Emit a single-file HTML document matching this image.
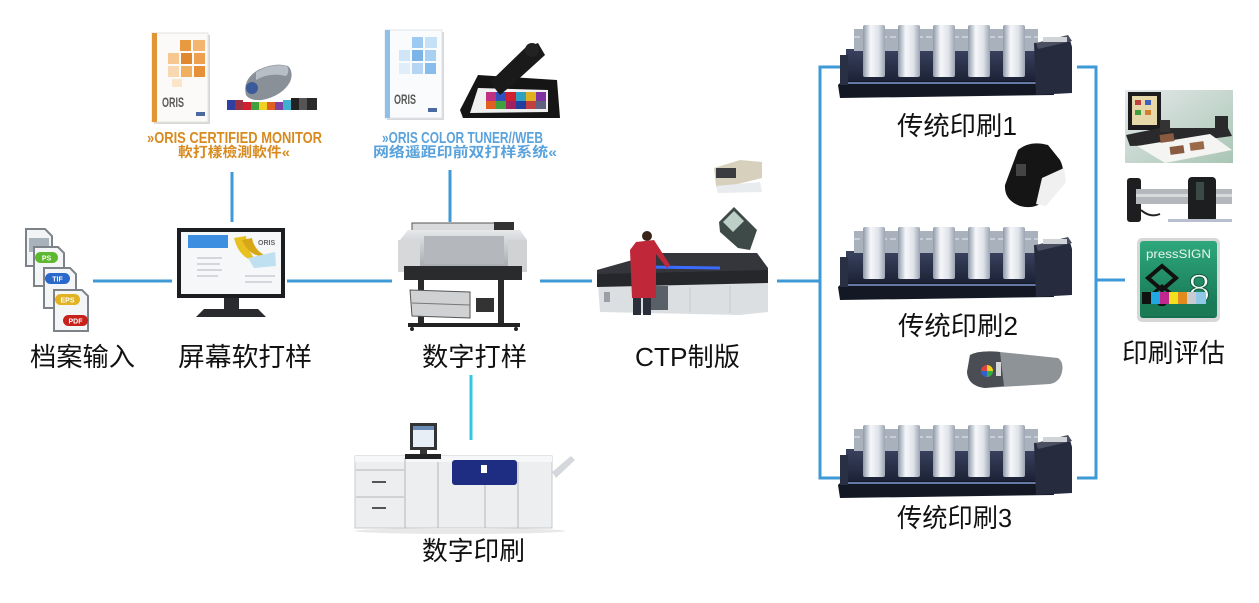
<!DOCTYPE html>
<html><head><meta charset="utf-8"><style>
html,body{margin:0;padding:0;background:#fff;}
svg{display:block;}
.lab{font-family:"Liberation Sans","Noto Sans CJK SC",sans-serif;font-size:26px;fill:#111;}
</style></head><body>
<svg width="1259" height="603" viewBox="0 0 1259 603" xmlns="http://www.w3.org/2000/svg">
<defs>
 <linearGradient id="tower" x1="0" x2="1" y1="0" y2="0">
  <stop offset="0" stop-color="#8f99a8"/><stop offset="0.35" stop-color="#f5f7fa"/><stop offset="0.7" stop-color="#dfe3e9"/><stop offset="1" stop-color="#9ba4b2"/>
 </linearGradient>
 <linearGradient id="navy" x1="0" x2="0" y1="0" y2="1">
  <stop offset="0" stop-color="#3a4360"/><stop offset="1" stop-color="#1c2236"/>
 </linearGradient>
 <linearGradient id="silver" x1="0" x2="0" y1="0" y2="1">
  <stop offset="0" stop-color="#e6e8ea"/><stop offset="1" stop-color="#9ea3a8"/>
 </linearGradient>
 <linearGradient id="green" x1="0" x2="0" y1="0" y2="1">
  <stop offset="0" stop-color="#2ea87c"/><stop offset="1" stop-color="#157050"/>
 </linearGradient>
 <linearGradient id="evalbg" x1="0" x2="1" y1="0" y2="1">
  <stop offset="0" stop-color="#e4e8ea"/><stop offset="1" stop-color="#a9c6b4"/>
 </linearGradient>
 <g id="press">
  <path d="M0 60 L5 55 L214 55 L216 70 L2 73 Z" fill="#141824"/>
  <rect x="6" y="57" width="206" height="2" fill="#6678a6"/>
  <rect x="8" y="24" width="192" height="32" fill="url(#navy)"/>
  <rect x="2" y="30" width="8" height="30" fill="#2a3044"/>
  <rect x="16" y="4" width="184" height="22" fill="#a9b1bc"/>
  <line x1="16" y1="12" x2="200" y2="12" stroke="#e8ecf0" stroke-width="1" stroke-dasharray="6 3"/>
  <path d="M196 18 L232 15 L234 22 L234 68 L198 70 Z" fill="#262c3e"/>
  <path d="M198 18 L230 10 L234 16 L200 24 Z" fill="#4a5060"/>
  <rect x="205" y="12" width="24" height="5" fill="#d0d4d8"/>
  <rect x="25" y="0" width="22" height="52" rx="2" fill="url(#tower)"/>
  <rect x="60" y="0" width="22" height="52" rx="2" fill="url(#tower)"/>
  <rect x="95" y="0" width="22" height="52" rx="2" fill="url(#tower)"/>
  <rect x="130" y="0" width="22" height="52" rx="2" fill="url(#tower)"/>
  <rect x="165" y="0" width="22" height="52" rx="2" fill="url(#tower)"/>
 </g>
</defs>

<!-- connectors -->
<g stroke="#3d9ad6" stroke-width="3" fill="none">
 <line x1="93" y1="281" x2="172" y2="281"/>
 <line x1="287" y1="281" x2="392" y2="281"/>
 <line x1="540" y1="281" x2="592" y2="281"/>
 <line x1="777" y1="281" x2="820" y2="281"/>
 <line x1="232" y1="172" x2="232" y2="222"/>
 <line x1="450" y1="170" x2="450" y2="222"/>
 <polyline points="842,67 820,67 820,478 842,478"/>
 <polyline points="1077,67 1096,67 1096,478 1077,478"/>
 <line x1="1096" y1="280" x2="1125" y2="280"/>
</g>
<line x1="471" y1="375" x2="471" y2="440" stroke="#34c8de" stroke-width="3"/>

<!-- file icons -->
<g stroke="#7d8288" stroke-width="2">
 <path d="M26 229 L45 229 L52 236 L52 266 L26 266 Z" fill="#f2f3f4"/>
 <rect x="29" y="238" width="20" height="14" fill="#a8b2bc" stroke="none"/>
 <path d="M34 247 L58 247 L64 253 L64 286 L34 286 Z" fill="#f4f5f6"/>
 <path d="M44 268 L70 268 L76 274 L76 308 L44 308 Z" fill="#f4f5f6"/>
 <path d="M54 290 L82 290 L88 296 L88 331 L54 331 Z" fill="#f4f5f6"/>
</g>
<g font-family="Liberation Sans, sans-serif" font-weight="bold" font-size="7" fill="#fff" text-anchor="middle">
 <rect x="35" y="252" width="23" height="11" rx="5.5" fill="#5cb82e"/><text x="46.5" y="260.5">PS</text>
 <rect x="45" y="273" width="25" height="11" rx="5.5" fill="#2a68cc"/><text x="57.5" y="281.5">TIF</text>
 <rect x="55" y="294" width="25" height="11" rx="5.5" fill="#e1b222"/><text x="67.5" y="302.5">EPS</text>
 <rect x="63" y="315" width="25" height="11" rx="5.5" fill="#c8201a"/><text x="75.5" y="323.5">PDF</text>
</g>

<!-- monitor -->
<rect x="177" y="228" width="108" height="70" fill="#1c1d20"/>
<rect x="181" y="232" width="100" height="62" fill="#f6f7f8"/>
<rect x="188" y="235" width="40" height="13" fill="#3c8ee0"/>
<g stroke="#c8ccd2" stroke-width="1.5">
 <line x1="197" y1="258" x2="222" y2="258"/><line x1="197" y1="264" x2="220" y2="264"/>
 <line x1="197" y1="270" x2="222" y2="270"/><line x1="197" y1="276" x2="218" y2="276"/>
 <line x1="245" y1="276" x2="275" y2="276"/><line x1="245" y1="282" x2="272" y2="282"/>
</g>
<path d="M234 238 Q240 262 262 262 Q248 258 246 236 Z" fill="#e8c020"/>
<path d="M242 240 Q250 258 266 256 Q254 250 252 238 Z" fill="#d6a818"/>
<path d="M248 258 L275 252 L276 266 L254 268 Z" fill="#bfe0f0"/>
<text x="258" y="245" font-family="Liberation Sans, sans-serif" font-size="7" font-weight="bold" fill="#666">ORIS</text>
<rect x="224" y="298" width="15" height="12" fill="#2a2b2e"/>
<path d="M196 317 L204 309 L258 309 L266 317 Z" fill="#2a2b2e"/>

<!-- ORIS box 1 -->
<rect x="154" y="35" width="56" height="89" fill="#d8d8d8"/>
<rect x="152" y="33" width="56" height="89" fill="#fbfaf8" stroke="#e6e2dc" stroke-width="1"/>
<rect x="152" y="33" width="5" height="89" fill="#e39434"/>
<rect x="180" y="40" width="11" height="11" fill="#e89a40"/>
<rect x="193" y="40" width="12" height="11" fill="#f2b670"/>
<rect x="168" y="53" width="11" height="11" fill="#f6c890"/>
<rect x="181" y="53" width="11" height="11" fill="#e08830"/>
<rect x="194" y="53" width="11" height="11" fill="#eda050"/>
<rect x="168" y="66" width="11" height="11" fill="#f8d8b0"/>
<rect x="181" y="66" width="11" height="11" fill="#f0b060"/>
<rect x="194" y="66" width="11" height="11" fill="#e69038"/>
<rect x="172" y="79" width="10" height="8" fill="#fbe4c8"/>
<text x="162" y="107" font-family="Liberation Sans, sans-serif" font-size="14" font-weight="bold" fill="#5a5a5a" textLength="22" lengthAdjust="spacingAndGlyphs">ORIS</text>
<rect x="196" y="112" width="9" height="4" fill="#4a6aa0"/>
<!-- device 1 -->
<path d="M246 95 Q242 80 258 70 Q275 62 288 66 Q294 72 290 82 Q282 96 262 100 Q250 101 246 95 Z" fill="#8a9098"/>
<path d="M256 72 Q272 63 287 66 Q290 72 286 76 Q270 72 256 80 Z" fill="#b8bec6"/>
<circle cx="252" cy="88" r="6" fill="#3a5a9a"/>
<g>
 <rect x="227" y="100" width="8" height="10" fill="#3040a0"/><rect x="235" y="100" width="8" height="10" fill="#a03040"/>
 <rect x="243" y="102" width="8" height="8" fill="#d02030"/><rect x="251" y="102" width="8" height="8" fill="#40a040"/>
 <rect x="259" y="102" width="8" height="8" fill="#f0d020"/><rect x="267" y="102" width="8" height="8" fill="#e06020"/>
 <rect x="275" y="102" width="8" height="8" fill="#8040a0"/><rect x="283" y="100" width="8" height="10" fill="#40b0d0"/>
 <rect x="291" y="98" width="8" height="12" fill="#222"/><rect x="299" y="98" width="8" height="12" fill="#555"/>
 <rect x="307" y="98" width="10" height="12" fill="#2a2a2a"/>
</g>
<text x="147" y="143" font-family="Liberation Sans, sans-serif" font-size="15.5" font-weight="bold" fill="#d88a1e" textLength="175" lengthAdjust="spacingAndGlyphs">»ORIS CERTIFIED MONITOR</text>
<text x="178" y="157" font-family="Liberation Sans, 'Noto Sans CJK TC', sans-serif" font-size="14" font-weight="bold" fill="#d88a1e" textLength="112" lengthAdjust="spacingAndGlyphs">軟打樣檢測軟件«</text>

<!-- ORIS box 2 -->
<rect x="387" y="32" width="57" height="88" fill="#d6d8dc"/>
<rect x="385" y="30" width="57" height="88" fill="#fafbfc" stroke="#e0e4ea" stroke-width="1"/>
<rect x="385" y="30" width="5" height="88" fill="#8ec0ea"/>
<rect x="412" y="37" width="11" height="11" fill="#9ccaf0"/>
<rect x="425" y="37" width="12" height="11" fill="#c6e0f6"/>
<rect x="399" y="50" width="11" height="11" fill="#d0e6f8"/>
<rect x="412" y="50" width="11" height="11" fill="#7ab4e8"/>
<rect x="425" y="50" width="11" height="11" fill="#a8d0f2"/>
<rect x="399" y="63" width="11" height="11" fill="#e0eefa"/>
<rect x="412" y="63" width="11" height="11" fill="#b4d6f4"/>
<rect x="425" y="63" width="11" height="11" fill="#88bcec"/>
<text x="394" y="104" font-family="Liberation Sans, sans-serif" font-size="14" font-weight="bold" fill="#5a5a5a" textLength="22" lengthAdjust="spacingAndGlyphs">ORIS</text>
<rect x="428" y="108" width="9" height="4" fill="#4a6aa0"/>
<!-- tuner -->
<path d="M460 110 L478 75 L557 80 L560 118 L463 118 Z" fill="#151515"/>
<path d="M478 88 L548 90 L548 112 L470 113 Z" fill="#f0f0f0"/>
<g>
 <rect x="486" y="92" width="10" height="9" fill="#c03080"/><rect x="496" y="92" width="10" height="9" fill="#3050c0"/>
 <rect x="506" y="92" width="10" height="9" fill="#d02030"/><rect x="516" y="92" width="10" height="9" fill="#30a0c0"/>
 <rect x="526" y="92" width="10" height="9" fill="#e0b020"/><rect x="536" y="92" width="10" height="9" fill="#8030a0"/>
 <rect x="486" y="101" width="10" height="8" fill="#e06020"/><rect x="496" y="101" width="10" height="8" fill="#40a040"/>
 <rect x="506" y="101" width="10" height="8" fill="#a02060"/><rect x="516" y="101" width="10" height="8" fill="#2040a0"/>
 <rect x="526" y="101" width="10" height="8" fill="#c04040"/><rect x="536" y="101" width="10" height="8" fill="#606080"/>
</g>
<path d="M490 82 L525 48 L538 43 L545 55 L512 85 L500 95 Z" fill="#1a1a1a"/>
<circle cx="532" cy="50" r="7" fill="#222"/>
<text x="382" y="143" font-family="Liberation Sans, sans-serif" font-size="15.5" font-weight="bold" fill="#5aa2dc" textLength="161" lengthAdjust="spacingAndGlyphs">»ORIS COLOR TUNER//WEB</text>
<text x="373" y="157" font-family="Liberation Sans, 'Noto Sans CJK SC', sans-serif" font-size="14" font-weight="bold" fill="#5aa2dc" textLength="184" lengthAdjust="spacingAndGlyphs">网络遥距印前双打样系统«</text>

<!-- printer -->
<rect x="412" y="223" width="100" height="9" fill="#d8dadc" stroke="#555" stroke-width="1"/>
<rect x="494" y="222" width="20" height="10" fill="#333"/>
<path d="M400 240 L408 230 L520 230 L527 240 L527 272 L398 272 Z" fill="url(#silver)"/>
<rect x="398" y="240" width="22" height="32" fill="#d6d8da"/>
<rect x="508" y="240" width="19" height="32" fill="#d0d2d4"/>
<rect x="424" y="236" width="80" height="28" fill="#b4b8bc"/>
<rect x="404" y="266" width="118" height="14" fill="#2a2b2d"/>
<rect x="418" y="280" width="6" height="44" fill="#2a2a2a"/>
<rect x="498" y="280" width="6" height="44" fill="#2a2a2a"/>
<path d="M410 290 L470 292 L470 318 L412 316 Z" fill="#cfd1d3" stroke="#555" stroke-width="1"/>
<line x1="412" y1="303" x2="470" y2="305" stroke="#777"/>
<rect x="476" y="298" width="18" height="14" fill="#333"/>
<rect x="408" y="323" width="112" height="4" fill="#222"/>
<circle cx="412" cy="329" r="2" fill="#222"/><circle cx="516" cy="329" r="2" fill="#222"/>

<!-- CTP -->
<path d="M597 270 L657 253 L757 253 L768 268 L768 312 L740 315 L600 312 Z" fill="#dcdfe2"/>
<path d="M597 270 L657 253 L757 253 L768 268 L768 278 L597 282 Z" fill="#34363c"/>
<path d="M597 274 L768 270 L768 283 L597 287 Z" fill="#26272b"/>
<line x1="648" y1="267" x2="720" y2="268" stroke="#3b6cff" stroke-width="3"/>
<line x1="690" y1="287" x2="690" y2="312" stroke="#c4c8cc"/>
<line x1="730" y1="286" x2="730" y2="313" stroke="#c4c8cc"/>
<rect x="604" y="292" width="6" height="10" fill="#9aa0a6"/>
<rect x="650" y="286" width="18" height="24" fill="#5a6068"/>
<!-- person -->
<circle cx="647" cy="236" r="5" fill="#3a2418"/>
<path d="M636 242 L654 240 L670 265 L667 268 L656 254 L656 298 L632 298 L630 250 Z" fill="#c0283a"/>
<rect x="633" y="298" width="8" height="17" fill="#2a2f3a"/>
<rect x="643" y="298" width="8" height="17" fill="#2a2f3a"/>
<!-- devices above CTP -->
<path d="M714 168 L740 160 L762 162 L762 178 L730 186 L716 186 Z" fill="#d6d0bc"/>
<rect x="716" y="168" width="20" height="10" fill="#3a3c40"/>
<path d="M716 186 L760 182 L762 192 L718 193 Z" fill="#e8ecef"/>
<path d="M719 222 L734 207 L757 230 L750 250 L738 248 L720 232 Z" fill="#3e4a48"/>
<path d="M723 222 L734 211 L744 221 L733 232 Z" fill="#bcd0c8"/>

<!-- digital press -->
<rect x="355" y="456" width="197" height="72" fill="#eceef0" stroke="#c6cacd" stroke-width="1"/>
<rect x="355" y="456" width="197" height="6" fill="#f6f7f8"/>
<g stroke="#b4b8bc" stroke-width="1">
 <line x1="405" y1="458" x2="405" y2="528"/><line x1="438" y1="462" x2="438" y2="528"/>
 <line x1="485" y1="485" x2="485" y2="528"/><line x1="518" y1="462" x2="518" y2="528"/>
 <line x1="356" y1="470" x2="404" y2="470"/><line x1="356" y1="497" x2="404" y2="497"/>
</g>
<rect x="372" y="481" width="14" height="2" fill="#555"/><rect x="372" y="507" width="14" height="2" fill="#555"/>
<rect x="452" y="460" width="65" height="25" rx="3" fill="#1e2c82"/>
<rect x="481" y="465" width="6" height="8" fill="#fff"/>
<rect x="410" y="423" width="27" height="27" fill="#333"/>
<rect x="413" y="426" width="21" height="21" fill="#e8eef6"/>
<rect x="413" y="426" width="21" height="4" fill="#6a8ab8"/>
<rect x="420" y="450" width="7" height="5" fill="#333"/>
<rect x="405" y="454" width="36" height="5" fill="#222"/>
<path d="M552 472 L571 456 L575 460 L556 478 Z" fill="#d4d8dc"/>
<ellipse cx="460" cy="531" rx="105" ry="3" fill="#e8e8e8"/>

<!-- presses -->
<use href="#press" x="838" y="25"/>
<use href="#press" x="838" y="227"/>
<use href="#press" x="838" y="425"/>

<!-- handheld 1 -->
<path d="M1018 150 Q1030 140 1048 145 L1060 160 Q1066 172 1060 180 L1045 200 Q1035 210 1020 206 Q1004 200 1005 185 Z" fill="#151515"/>
<path d="M1042 178 L1064 168 L1066 182 L1046 206 L1036 204 Z" fill="#f0f0f0"/>
<rect x="1016" y="164" width="10" height="12" fill="#444"/>
<!-- handheld 2 -->
<path d="M970 355 Q980 350 1000 352 L1058 358 Q1064 362 1062 372 Q1060 382 1050 384 L985 388 Q968 386 967 372 Z" fill="#8e9398"/>
<path d="M970 355 Q980 350 1000 352 L1004 386 L985 388 Q968 386 967 372 Z" fill="#4a4e54"/>
<circle cx="987" cy="371" r="6" fill="#e04040"/>
<path d="M987 371 L987 365 A6 6 0 0 1 993 371 Z" fill="#f0d020"/>
<path d="M987 371 L993 371 A6 6 0 0 1 987 377 Z" fill="#30b040"/>
<path d="M987 371 L987 377 A6 6 0 0 1 981 371 Z" fill="#3060d0"/>
<rect x="996" y="362" width="5" height="14" fill="#d8d8d8"/>

<!-- evaluation monitor image -->
<rect x="1125" y="90" width="108" height="73" fill="url(#evalbg)"/>
<rect x="1128" y="92" width="33" height="38" fill="#1c1c1e"/>
<rect x="1132" y="96" width="25" height="29" fill="#e6d8a8"/>
<rect x="1135" y="100" width="6" height="5" fill="#c04040"/><rect x="1145" y="100" width="6" height="5" fill="#4060c0"/>
<rect x="1135" y="110" width="6" height="5" fill="#40a040"/><rect x="1145" y="110" width="6" height="5" fill="#d08030"/>
<path d="M1126 135 L1160 128 L1228 128 L1232 136 L1165 145 L1130 146 Z" fill="#2a2a2c"/>
<rect x="1160" y="120" width="10" height="12" fill="#333"/>
<rect x="1215" y="116" width="13" height="14" fill="#2a2a2c"/>
<path d="M1137 146 L1210 134 L1232 150 L1165 163 Z" fill="#f4f4f2"/>
<rect x="1170" y="146" width="14" height="8" fill="#8a5a40" transform="rotate(-8 1177 150)"/>
<rect x="1190" y="142" width="14" height="8" fill="#9a6a48" transform="rotate(-8 1197 146)"/>
<rect x="1160" y="134" width="14" height="8" fill="#8a5a40" transform="rotate(-8 1167 138)"/>
<!-- strip reader -->
<rect x="1127" y="178" width="14" height="44" rx="3" fill="#1e1e20"/>
<rect x="1136" y="189" width="96" height="15" fill="#b4b8bc"/>
<rect x="1136" y="194" width="96" height="3" fill="#d8dadc"/>
<rect x="1188" y="177" width="28" height="45" rx="4" fill="#1c1e20"/>
<rect x="1196" y="182" width="8" height="18" fill="#3a4a44"/>
<rect x="1168" y="219" width="64" height="3" fill="#b8c0d0"/>
<path d="M1141 210 Q1150 218 1160 214" stroke="#222" stroke-width="2" fill="none"/>
<!-- pressSIGN -->
<rect x="1137" y="238" width="83" height="84" rx="5" fill="#d6d8d8"/>
<rect x="1140" y="241" width="77" height="77" rx="3" fill="url(#green)"/>
<text x="1146" y="258" font-family="Liberation Sans, sans-serif" font-size="12" fill="#eaf6ef" textLength="65" lengthAdjust="spacingAndGlyphs">pressSIGN</text>
<text x="1188" y="302" font-family="Liberation Sans, sans-serif" font-size="40" fill="#f4fbf6" stroke="#0e5a3e" stroke-width="1">8</text>
<path d="M1148 278 L1162 266 L1176 278 L1162 290 Z" fill="none" stroke="#111" stroke-width="4"/>
<path d="M1150 296 L1162 286 L1174 296 L1162 306 Z" fill="none" stroke="#111" stroke-width="3"/>
<g>
 <rect x="1142" y="292" width="9" height="12" fill="#111"/><rect x="1151" y="292" width="9" height="12" fill="#22a8e0"/>
 <rect x="1160" y="292" width="9" height="12" fill="#c02890"/><rect x="1169" y="292" width="9" height="12" fill="#f0e020"/>
 <rect x="1178" y="292" width="9" height="12" fill="#e08a20"/><rect x="1187" y="292" width="9" height="12" fill="#c8ccd0"/>
 <rect x="1196" y="292" width="10" height="12" fill="#90c8e8"/>
</g>
<rect x="1140" y="306" width="77" height="10" fill="#1a7a56"/>

<!-- labels -->
<text class="lab" x="30" y="366" textLength="105" lengthAdjust="spacingAndGlyphs">档案输入</text>
<text class="lab" x="178" y="366" textLength="134" lengthAdjust="spacingAndGlyphs">屏幕软打样</text>
<text class="lab" x="422" y="366" textLength="105" lengthAdjust="spacingAndGlyphs">数字打样</text>
<text class="lab" x="635" y="366" textLength="105" lengthAdjust="spacingAndGlyphs">CTP制版</text>
<text class="lab" x="1122" y="362" textLength="103" lengthAdjust="spacingAndGlyphs">印刷评估</text>
<text class="lab" x="897" y="135" textLength="120" lengthAdjust="spacingAndGlyphs">传统印刷1</text>
<text class="lab" x="898" y="335" textLength="120" lengthAdjust="spacingAndGlyphs">传统印刷2</text>
<text class="lab" x="897" y="527" textLength="115" lengthAdjust="spacingAndGlyphs">传统印刷3</text>
<text class="lab" x="422" y="560" textLength="103" lengthAdjust="spacingAndGlyphs">数字印刷</text>
</svg>
</body></html>
